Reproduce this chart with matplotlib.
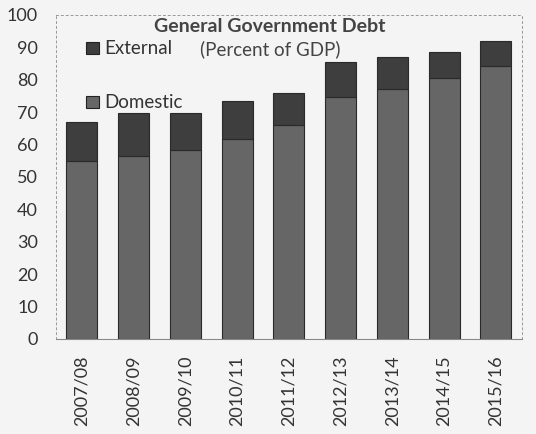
import numpy as np
import matplotlib.pyplot as plt

# General government debt, percent of GDP
years = ['2007/08', '2008/09', '2009/10', '2010/11', '2011/12',
         '2012/13', '2013/14', '2014/15', '2015/16']
domestic = [54.8, 56.6, 58.2, 61.8, 65.9, 74.7, 77.0, 80.4, 84.1]
total = [67.0, 69.8, 69.8, 73.4, 75.8, 85.6, 86.9, 88.7, 92.1]
external = [t - d for t, d in zip(total, domestic)]

plt.rcParams['font.family'] = ['Lato', 'DejaVu Sans']

fig = plt.figure(figsize=(5.36, 4.34), dpi=100, facecolor='#f4f4f4')
ax = fig.add_axes([0.1045, 0.219, 0.869, 0.7465], facecolor='#f4f4f4')

x = np.arange(len(years))
ax.bar(x, domestic, width=0.6, color='#666666', edgecolor='#2a2a2a',
       linewidth=0.8, label='Domestic')
ax.bar(x, external, bottom=domestic, width=0.6, color='#3e3e3e',
       edgecolor='#2a2a2a', linewidth=0.8, label='External')

ax.set_xlim(-0.5, 8.5)
ax.set_ylim(0, 100)
ax.set_yticks(range(0, 101, 10))
ax.set_xticks(x)
ax.set_xticklabels(years, rotation=90)
ax.tick_params(axis='both', length=0, labelsize=13, colors='#333333')
ax.tick_params(axis='y', pad=13)
ax.tick_params(axis='x', pad=12)

for side in ['top', 'right', 'left']:
    ax.spines[side].set_linestyle((0, (2, 3)))
    ax.spines[side].set_color('#999999')
    ax.spines[side].set_linewidth(0.7)
ax.spines['bottom'].set_color('#888888')
ax.spines['bottom'].set_linewidth(0.8)

ax.text(0.459, 0.963, 'General Government Debt', transform=ax.transAxes,
        ha='center', va='center', fontsize=14, fontweight='bold', color='#444444')
ax.text(0.459, 0.895, '(Percent of GDP)', transform=ax.transAxes,
        ha='center', va='center', fontsize=13.5, color='#444444')

# legend entries placed by hand as two separate labels
for label, color, yy in [('External', '#3e3e3e', 0.898), ('Domestic', '#666666', 0.731)]:
    ax.add_patch(plt.Rectangle((0.064, yy - 0.019), 0.028, 0.037, transform=ax.transAxes,
                               facecolor=color, edgecolor='#222222', linewidth=0.8))
    ax.text(0.103, yy, label, transform=ax.transAxes, ha='left', va='center',
            fontsize=13.5, color='#333333')

fig.savefig('out.png', dpi=100, facecolor=fig.get_facecolor())
